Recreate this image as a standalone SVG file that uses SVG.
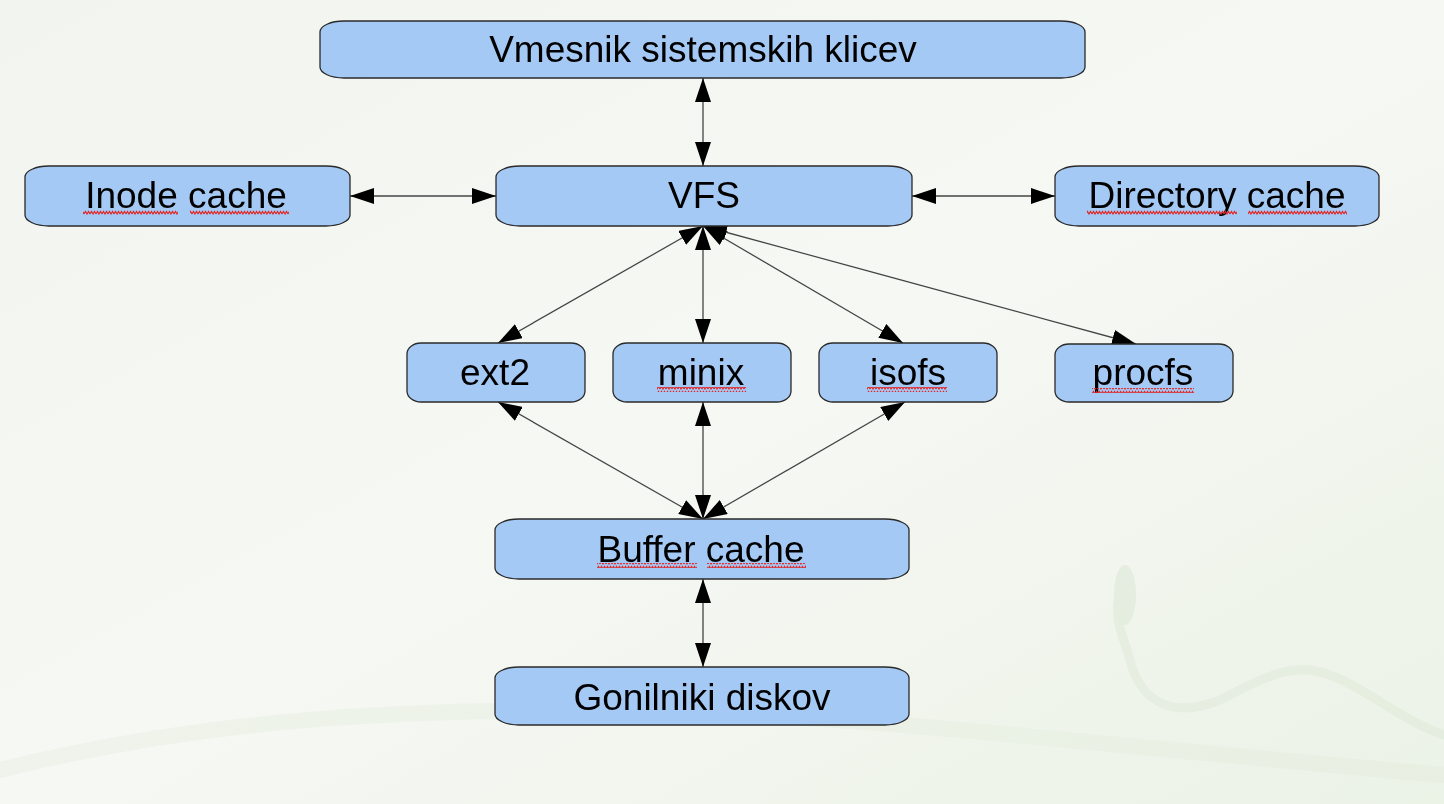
<svg xmlns="http://www.w3.org/2000/svg" width="1444" height="804" viewBox="0 0 1444 804">
<defs>
<linearGradient id="bg" x1="0" y1="0" x2="1" y2="1">
<stop offset="0" stop-color="#f1f4ef"/>
<stop offset="0.5" stop-color="#f6f8f4"/>
<stop offset="1" stop-color="#ebf2e6"/>
</linearGradient>
<marker id="ah" viewBox="0 0 24 16" refX="24" refY="8" markerWidth="24" markerHeight="16" markerUnits="userSpaceOnUse" orient="auto-start-reverse">
<path d="M0,0 L24,8 L0,16 Z" fill="#000"/>
</marker>
<pattern id="sq" width="6" height="5" patternUnits="userSpaceOnUse"><path d="M0,4 L1.5,1.5 L3,4 L4.5,1.5 L6,4" fill="none" stroke="#e02828" stroke-width="1.2"/></pattern>
</defs>
<style>
.box{fill:#a5c9f5;stroke:#2a2a2a;stroke-width:1.3}
.lbl{font-family:"Liberation Sans",Arial,sans-serif;font-size:37px;fill:#000;text-anchor:middle}
.c{fill:none;stroke:#444;stroke-width:1.3;marker-start:url(#ah);marker-end:url(#ah)}
.sq{fill:url(#sq)}
</style>
<rect width="1444" height="804" fill="url(#bg)"/>
<g id="decor" fill="none" stroke="#e1ebdb" stroke-linecap="round" opacity="0.7">
<path d="M1118,600 C1115,625 1125,640 1130,660 C1140,700 1170,720 1220,700 C1260,680 1290,660 1330,675 C1370,690 1400,720 1444,735" stroke-width="9"/>
<path d="M0,770 C200,720 400,705 700,712 C900,720 1100,745 1444,775" stroke-width="16" opacity="0.5"/>
<ellipse cx="1125" cy="595" rx="11" ry="30" fill="#e0eada" stroke="none"/>
</g>
<g id="connectors">
<line class="c" x1="703" y1="78" x2="703" y2="166"/>
<line class="c" x1="350" y1="196" x2="496" y2="196"/>
<line class="c" x1="912" y1="196" x2="1055" y2="196"/>
<line class="c" x1="703" y1="226" x2="498" y2="343"/>
<line class="c" x1="703" y1="226" x2="703" y2="343"/>
<line class="c" x1="703" y1="226" x2="903" y2="343"/>
<line class="c" x1="703" y1="226" x2="1136" y2="344"/>
<line class="c" x1="498" y1="402" x2="703" y2="519"/>
<line class="c" x1="703" y1="402" x2="703" y2="519"/>
<line class="c" x1="905" y1="402" x2="703" y2="519"/>
<line class="c" x1="703" y1="579" x2="703" y2="667"/>
</g>
<g id="n-vmesnik"><rect class="box" x="320" y="21" width="765" height="57" rx="24" ry="11"/><text class="lbl" x="703" y="62">Vmesnik sistemskih klicev</text></g>
<g id="n-inode"><rect class="box" x="25" y="166" width="325" height="60" rx="24" ry="11"/><text class="lbl" x="186" y="208">Inode cache</text><rect class="sq" x="83" y="210" width="95" height="5"/><rect class="sq" x="190" y="210" width="99" height="5"/></g>
<g id="n-vfs"><rect class="box" x="496" y="166" width="416" height="60" rx="24" ry="11"/><text class="lbl" x="704" y="208">VFS</text></g>
<g id="n-dir"><rect class="box" x="1055" y="166" width="324" height="60" rx="24" ry="11"/><text class="lbl" x="1217" y="208">Directory cache</text><rect class="sq" x="1087" y="210" width="150" height="5"/><rect class="sq" x="1248" y="210" width="99" height="5"/></g>
<g id="n-ext2"><rect class="box" x="407" y="343" width="178" height="59" rx="14" ry="11"/><text class="lbl" x="495" y="385">ext2</text></g>
<g id="n-minix"><rect class="box" x="613" y="343" width="178" height="59" rx="14" ry="11"/><text class="lbl" x="701" y="385">minix</text><rect class="sq" x="657" y="387" width="89" height="5"/></g>
<g id="n-isofs"><rect class="box" x="819" y="343" width="178" height="59" rx="14" ry="11"/><text class="lbl" x="908" y="385">isofs</text><rect class="sq" x="867" y="387" width="80" height="5"/></g>
<g id="n-procfs"><rect class="box" x="1055" y="344" width="178" height="58" rx="14" ry="11"/><text class="lbl" x="1143" y="385">procfs</text><rect class="sq" x="1092" y="388" width="102" height="5"/></g>
<g id="n-buffer"><rect class="box" x="495" y="519" width="414" height="60" rx="24" ry="11"/><text class="lbl" x="701" y="562">Buffer cache</text><rect class="sq" x="597" y="563" width="100" height="5"/><rect class="sq" x="707" y="563" width="99" height="5"/></g>
<g id="n-gonilniki"><rect class="box" x="495" y="667" width="414" height="58" rx="24" ry="11"/><text class="lbl" x="702" y="710">Gonilniki diskov</text></g>
</svg>
